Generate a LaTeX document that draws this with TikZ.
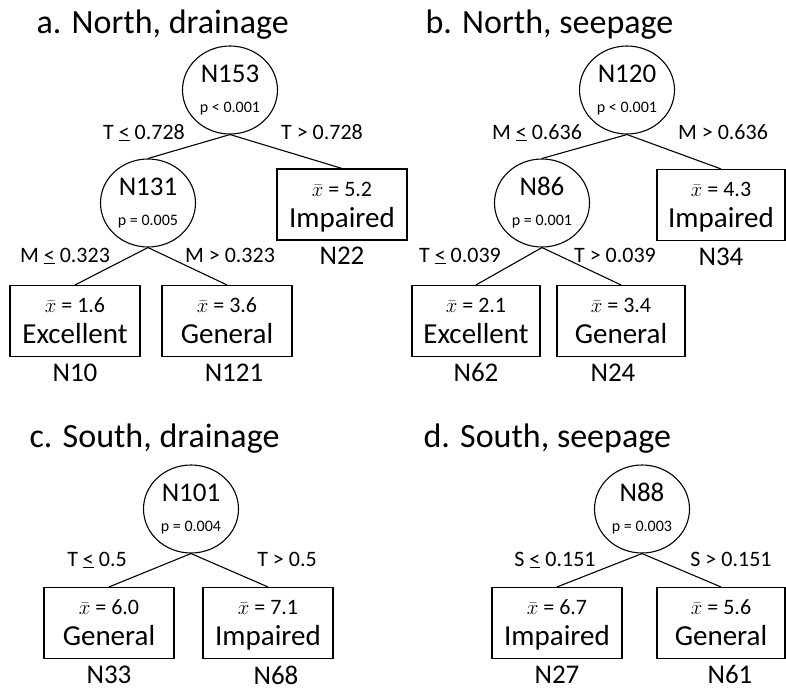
\documentclass[tikz,border=0pt]{standalone}
\usepackage{fontspec}
\setmainfont{Carlito}
\usetikzlibrary{positioning,shapes.geometric}
\newcommand{\titlesize}{\fontsize{34}{40}\selectfont}
\newcommand{\namesize}{\fontsize{27}{30}\selectfont}
\newcommand{\pvalsize}{\fontsize{16}{19}\selectfont}
\newcommand{\rulesize}{\fontsize{22}{26}\selectfont}
\newcommand{\leafsize}{\fontsize{29}{31}\selectfont}
\newcommand{\meansize}{\fontsize{22}{26}\selectfont}
\newcommand{\uless}{\underline{<}}
\newcommand{\mean}[1]{{\meansize $\bar{x}$ = #1}}
\begin{document}
\begin{tikzpicture}[x=1pt, y=-1pt, line width=1.1pt,
  panel/.style={anchor=base west, inner sep=0pt, font=\titlesize},
  split/.style={draw, ellipse, minimum width=95pt, minimum height=88pt, inner sep=0pt, align=center, font=\namesize},
  leaf/.style={draw, rectangle, minimum width=130pt, minimum height=71pt, inner sep=0pt, text depth=0pt, align=center, font=\leafsize},
  rule/.style={anchor=base, inner sep=0pt, font=\rulesize},
  tag/.style={anchor=north, inner sep=0pt, font=\namesize}]
  \useasboundingbox (0,0) rectangle (786,688);

  \node[panel] (ta) at (36,33) {a. North, drainage};
  \node[split] (n153) at (230,90) {N153\\{\pvalsize p < 0.001}};
  \node[split] (n131) at (148,203) {N131\\{\pvalsize p = 0.005}};
  \node[leaf] (n22) at (342,204.5) {\mean{5.2}\\Impaired};
  \node[leaf] (n10) at (75,321) {\mean{1.6}\\Excellent};
  \node[leaf] (n121) at (227,321) {\mean{3.6}\\General};
  \node[tag] (t22) at ([shift={(0,6)}]n22.south) {N22};
  \node[tag] (t10) at ([shift={(0,6)}]n10.south) {N10};
  \node[tag] (t121) at ([shift={(7,6)}]n121.south) {N121};
  \draw (n153.south) -- (n131.north);
  \draw (n153.south) -- (n22.north);
  \draw (n131.south) -- (n10.north);
  \draw (n131.south) -- (n121.north);
  \node[rule] (ra1) at (144,139) {T \uless{} 0.728};
  \node[rule] (ra2) at (322,139) {T > 0.728};
  \node[rule] (ra3) at (65,262) {M \uless{} 0.323};
  \node[rule] (ra4) at (230,262) {M > 0.323};

  \node[panel] (tb) at (425,33) {b. North, seepage};
  \node[split] (n120) at (627,90) {N120\\{\pvalsize p < 0.001}};
  \node[split] (n86) at (542,203) {N86\\{\pvalsize p = 0.001}};
  \node[leaf, minimum width=128pt] (n34) at (721,205) {\mean{4.3}\\Impaired};
  \node[leaf, minimum width=128pt] (n62) at (476,321) {\mean{2.1}\\Excellent};
  \node[leaf, minimum width=128pt] (n24) at (621,321) {\mean{3.4}\\General};
  \node[tag] (t34) at ([shift={(0,6)}]n34.south) {N34};
  \node[tag] (t62) at ([shift={(0,6)}]n62.south) {N62};
  \node[tag] (t24) at ([shift={(-8,6)}]n24.south) {N24};
  \draw (n120.south) -- (n86.north);
  \draw (n120.south) -- (n34.north);
  \draw (n86.south) -- (n62.north);
  \draw (n86.south) -- (n24.north);
  \node[rule] (rb1) at (537,139) {M \uless{} 0.636};
  \node[rule] (rb2) at (723,139) {M > 0.636};
  \node[rule] (rb3) at (460,262) {T \uless{} 0.039};
  \node[rule] (rb4) at (615,262) {T > 0.039};

  \node[panel] (tc) at (29,447) {c. South, drainage};
  \node[split] (n101) at (191,509) {N101\\{\pvalsize p = 0.004}};
  \node[leaf] (n33) at (109,623) {\mean{6.0}\\General};
  \node[leaf] (n68) at (268,623) {\mean{7.1}\\Impaired};
  \node[tag] (t33) at ([shift={(0,6)}]n33.south) {N33};
  \node[tag] (t68) at ([shift={(8,6)}]n68.south) {N68};
  \draw (n101.south) -- (n33.north);
  \draw (n101.south) -- (n68.north);
  \node[rule] (rc1) at (97,566) {T \uless{} 0.5};
  \node[rule] (rc2) at (287,566) {T > 0.5};

  \node[panel] (td) at (423,447) {d. South, seepage};
  \node[split] (n88) at (642,509) {N88\\{\pvalsize p = 0.003}};
  \node[leaf] (n27) at (557,623) {\mean{6.7}\\Impaired};
  \node[leaf, minimum width=128pt] (n61) at (721,623) {\mean{5.6}\\General};
  \node[tag] (t27) at ([shift={(0,6)}]n27.south) {N27};
  \node[tag] (t61) at ([shift={(9,6)}]n61.south) {N61};
  \draw (n88.south) -- (n27.north);
  \draw (n88.south) -- (n61.north);
  \node[rule] (rd1) at (555,566) {S \uless{} 0.151};
  \node[rule] (rd2) at (731,566) {S > 0.151};
\end{tikzpicture}
\end{document}
